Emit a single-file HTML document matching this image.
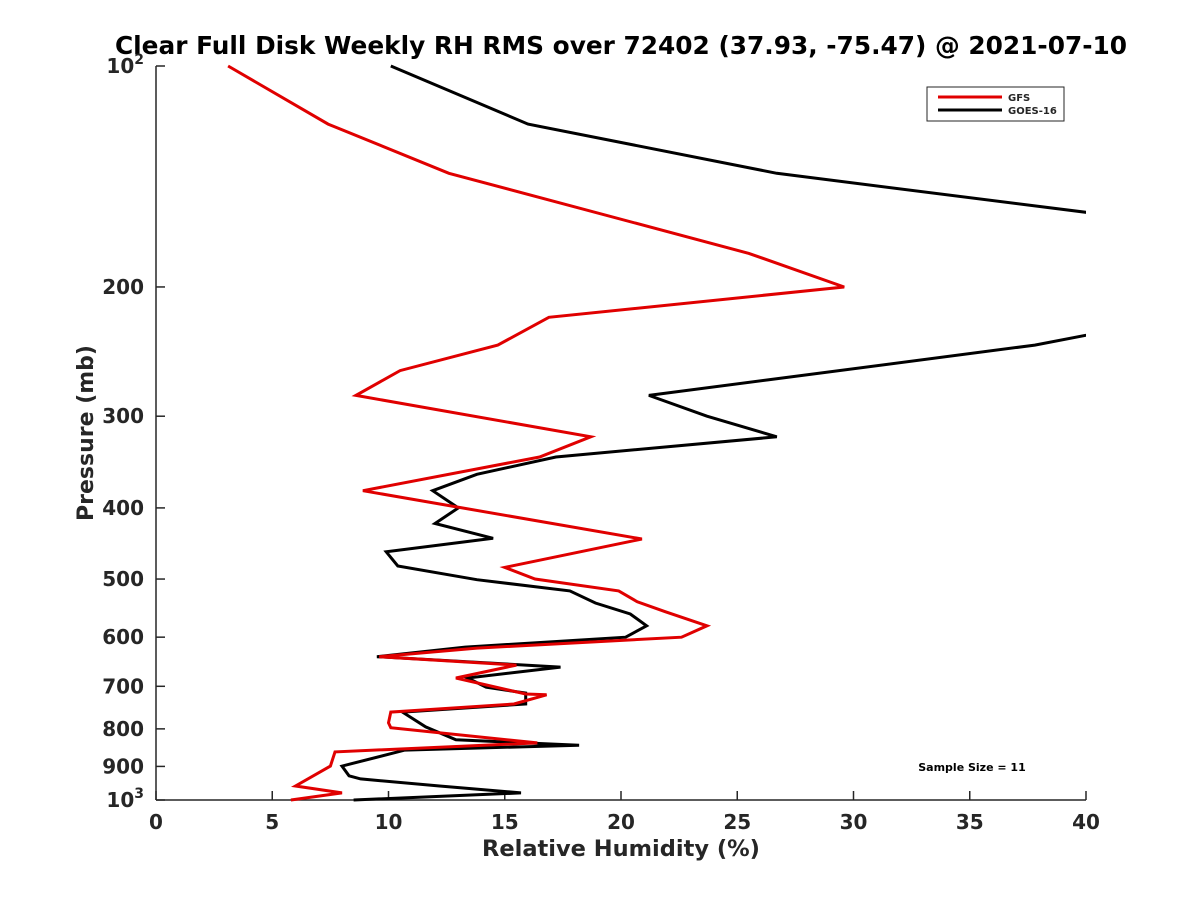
<!DOCTYPE html>
<html><head><meta charset="utf-8"><style>
body{margin:0;background:#fff;}
svg{display:block;font-family:"DejaVu Sans","Liberation Sans",sans-serif;font-weight:bold;}
</style></head><body>
<svg id="chart" width="1200" height="900">
<defs><clipPath id="plotclip"><rect x="156" y="60" width="930" height="745"/></clipPath></defs>
<text x="621" y="54" text-anchor="middle" font-size="24.8" fill="#000">Clear Full Disk Weekly RH RMS over 72402 (37.93, -75.47) @ 2021-07-10</text>
<g id="axes"></g>
<g id="series" clip-path="url(#plotclip)"></g>
<g>
<rect x="927" y="87" width="137" height="34" fill="#fff" stroke="#262626" stroke-width="1"/>
<line x1="938" y1="97" x2="1002" y2="97" stroke="#e00000" stroke-width="3"/>
<text x="1008" y="101" font-size="10" fill="#262626">GFS</text>
<line x1="938" y1="110" x2="1002" y2="110" stroke="#000" stroke-width="3"/>
<text x="1008" y="114" font-size="10" fill="#262626">GOES-16</text>
</g>
<text x="972" y="771" text-anchor="middle" font-size="11" fill="#000">Sample Size = 11</text>
<text x="621" y="856" text-anchor="middle" font-size="22.5" fill="#262626">Relative Humidity (%)</text>
<text transform="translate(93,433) rotate(-90)" text-anchor="middle" font-size="22" fill="#262626">Pressure (mb)</text>
</svg>
<script>
const xTicks=[0,5,10,15,20,25,30,35,40];
const yTicks=[100,200,300,400,500,600,700,800,900,1000];
const gfsPressure=[100,120,140,180,200,220,240,260,281,320,341,379,441,482,500,519,537,554,579,600,621,638,655,682,717,719,740,759,785,797,836,860,899,957,978,1000];
const gfsRH=[3.1,7.4,12.6,25.5,29.6,16.9,14.7,10.5,8.6,18.7,16.5,8.9,20.9,15.0,16.3,19.9,20.7,21.9,23.7,22.6,13.8,9.6,15.5,12.9,15.9,16.8,15.4,10.1,10.0,10.1,16.4,7.7,7.5,6.0,8.0,5.8];
const goesPressure=[100,120,140,180,200,220,240,281,300,320,341,360,379,400,420,440,459,480,501,519,539,558,579,600,619,638,659,682,702,715,740,759,795,828,842,855,899,927,936,957,978,1000];
const goesRH=[10.1,16.0,26.7,54,60,44,37.8,21.2,23.7,26.7,17.2,13.8,11.9,13.0,12.0,14.5,9.9,10.4,13.8,17.8,18.9,20.4,21.1,20.2,13.3,9.5,17.4,13.4,14.2,15.9,15.9,10.6,11.6,12.9,18.2,10.7,8.0,8.3,8.8,12.2,15.7,8.5];

const NS='http://www.w3.org/2000/svg';
const X0=156,X1=1086,Y0=66,Y1=800;
function xs(v){return X0+(v-0)/(40-0)*(X1-X0);}
function ys(p){return Y0+(Math.log10(p)-2)/(3-2)*(Y1-Y0);}
function mk(tag,attrs,parent){const e=document.createElementNS(NS,tag);for(const k in attrs)e.setAttribute(k,attrs[k]);parent.appendChild(e);return e;}
const axes=document.getElementById('axes');
let l=mk('line',{x1:X0,y1:Y0,x2:X0,y2:Y1,stroke:'#262626','stroke-width':1.5},axes);


l=mk('line',{x1:X0,y1:Y1,x2:X1,y2:Y1,stroke:'#262626','stroke-width':1.5},axes);


xTicks.forEach(v=>{
  const x=xs(v);
  const t=mk('line',{x1:x,y1:Y1,x2:x,y2:Y1-9,stroke:'#262626','stroke-width':1.5},axes);
  
  
  const tx=mk('text',{x:x,y:829,'text-anchor':'middle','font-size':20,fill:'#262626'},axes);
  tx.textContent=v;
  
  
});
yTicks.forEach(p=>{
  const y=ys(p);
  const t=mk('line',{x1:X0,y1:y,x2:X0+9,y2:y,stroke:'#262626','stroke-width':1.5},axes);
  
  
  const tx=mk('text',{x:144,y:y+7,'text-anchor':'end','font-size':20,fill:'#262626'},axes);
  if(p===100||p===1000){
    tx.textContent='10';
    const s=mk('tspan',{dy:-9,'font-size':14},tx);
    s.textContent=p===100?'2':'3';
  } else tx.textContent=p;
  
  
});
const ser=document.getElementById('series');
function drawLine(P,R,color,name){
  const pts=P.map((p,i)=>xs(R[i]).toFixed(1)+','+ys(p).toFixed(1)).join(' ');
  const pl=mk('polyline',{points:pts,fill:'none',stroke:color,'stroke-width':3,'stroke-linejoin':'miter'},ser);
  
  
}
drawLine(goesPressure,goesRH,'#000','goes-16-line');
drawLine(gfsPressure,gfsRH,'#e00000','gfs-line');
</script>
</body></html>
